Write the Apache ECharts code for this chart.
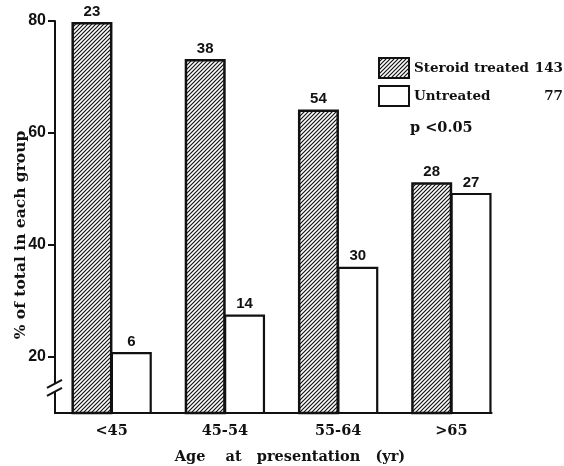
<!DOCTYPE html>
<html>
<head>
<meta charset="utf-8">
<script src="https://cdn.jsdelivr.net/npm/echarts@6/dist/echarts.min.js"></script>
<style>html,body{margin:0;padding:0;background:#fff;}#c{width:564px;height:466px;}</style>
</head>
<body>
<div id="c"></div>
<script>
const categories = ['<45', '45-54', '55-64', '>65'];
const steroidPct = [79.8, 73.2, 64.2, 51.2];
const untreatedPct = [20.9, 27.6, 36.1, 49.3];
const steroidN = [23, 38, 54, 28];
const untreatedN = [6, 14, 30, 27];
const yTicks = [20, 40, 60, 80];
const steroidTotal = 143;
const untreatedTotal = 77;
const pText = 'p <0.05';

function hatch() {
  const s = 4;
  const c = document.createElement('canvas');
  c.width = s; c.height = s;
  const g = c.getContext('2d');
  g.fillStyle = '#fff'; g.fillRect(0, 0, s, s);
  g.strokeStyle = '#111'; g.lineWidth = 1.2;
  g.beginPath();
  g.moveTo(-1, s + 1); g.lineTo(s + 1, -1);
  g.moveTo(-1, 1); g.lineTo(1, -1);
  g.moveTo(s - 1, s + 1); g.lineTo(s + 1, s - 1);
  g.stroke();
  return c;
}

const serif = "'DejaVu Serif', serif";
const sans = "'Liberation Sans', Arial, sans-serif";
const chart = echarts.init(document.getElementById('c'), null, {renderer: 'canvas'});
const BW = 41;

chart.setOption({
  animation: false,
  backgroundColor: '#fff',
  grid: {left: 55, right: 56, top: 21, bottom: 53, containLabel: false},
  legend: {
    orient: 'vertical', left: 373, top: 52, itemWidth: 30, itemHeight: 20, itemGap: 6,
    icon: 'rect',
    data: ['Steroid treated', 'Untreated'],
    formatter: function (name) {
      return '{n|' + name + '}{v|' + (name === 'Steroid treated' ? steroidTotal : untreatedTotal) + '}';
    },
    textStyle: {
      rich: {
        n: {width: 118, fontFamily: serif, fontWeight: 'bold', fontSize: 13.5, color: '#111'},
        v: {width: 31, align: 'right', fontFamily: serif, fontWeight: 'bold', fontSize: 13.5, color: '#111'}
      }
    }
  },
  xAxis: {
    type: 'category', data: categories,
    axisLine: {show: false}, axisTick: {show: false},
    axisLabel: {fontFamily: serif, fontWeight: 'bold', fontSize: 14.5, color: '#111', margin: 11}
  },
  yAxis: {
    type: 'value', min: 10, max: 80, interval: 10,
    splitLine: {show: false},
    axisLine: {show: true, lineStyle: {color: '#111', width: 2}},
    axisTick: {show: true, customValues: yTicks, length: 7, lineStyle: {color: '#111', width: 2}},
    axisLabel: {customValues: yTicks, fontFamily: sans, fontWeight: 'bold', fontSize: 16, color: '#111', margin: 9}
  },
  series: [
    {
      name: 'Steroid treated', type: 'bar', data: steroidPct, barWidth: BW, barGap: '-4%',
      itemStyle: {color: {image: hatch(), repeat: 'repeat'}, borderColor: '#111', borderWidth: 2.5},
      label: {show: true, position: 'top', distance: 3, formatter: p => steroidN[p.dataIndex],
        fontFamily: sans, fontWeight: 'bold', fontSize: 15, color: '#111'}
    },
    {
      name: 'Untreated', type: 'bar', data: untreatedPct, barWidth: BW, barGap: '-4%',
      itemStyle: {color: '#fff', borderColor: '#111', borderWidth: 2.2},
      label: {show: true, position: 'top', distance: 3, formatter: p => untreatedN[p.dataIndex],
        fontFamily: sans, fontWeight: 'bold', fontSize: 15, color: '#111'}
    }
  ]
});

const x3 = chart.convertToPixel({xAxisIndex: 0}, categories.length - 1);
const yBase = chart.convertToPixel({yAxisIndex: 0}, 10);
const yBrk = chart.convertToPixel({yAxisIndex: 0}, 14.5);
const xAxisPx = 55;

chart.setOption({
  graphic: [
    {type: 'line', shape: {x1: xAxisPx - 1, y1: yBase, x2: x3 + BW, y2: yBase}, style: {stroke: '#111', lineWidth: 2}, z: 100},
    {type: 'rect', shape: {x: xAxisPx - 3, y: yBrk - 4, width: 6, height: 8}, style: {fill: '#fff'}, z: 100},
    {type: 'line', shape: {x1: xAxisPx - 8, y1: yBrk - 0, x2: xAxisPx + 7, y2: yBrk - 8}, style: {stroke: '#111', lineWidth: 2}, z: 101},
    {type: 'line', shape: {x1: xAxisPx - 8, y1: yBrk + 8, x2: xAxisPx + 7, y2: yBrk + 0}, style: {stroke: '#111', lineWidth: 2}, z: 101},
    {type: 'text', x: 410, y: 128, style: {text: pText, fontFamily: serif, fontWeight: 'bold', fontSize: 14.5, fill: '#111', verticalAlign: 'middle'}},
    {type: 'text', x: 290, y: 457, style: {text: 'Age    at   presentation   (yr)', fontFamily: serif, fontWeight: 'bold', fontSize: 14.5, fill: '#111', align: 'center', verticalAlign: 'middle'}},
    {type: 'text', x: 21, y: 235, rotation: Math.PI / 2, style: {text: '% of total in each group', fontFamily: serif, fontWeight: 'bold', fontSize: 15.5, fill: '#111', align: 'center', verticalAlign: 'middle'}}
  ]
});
</script>
</body>
</html>
